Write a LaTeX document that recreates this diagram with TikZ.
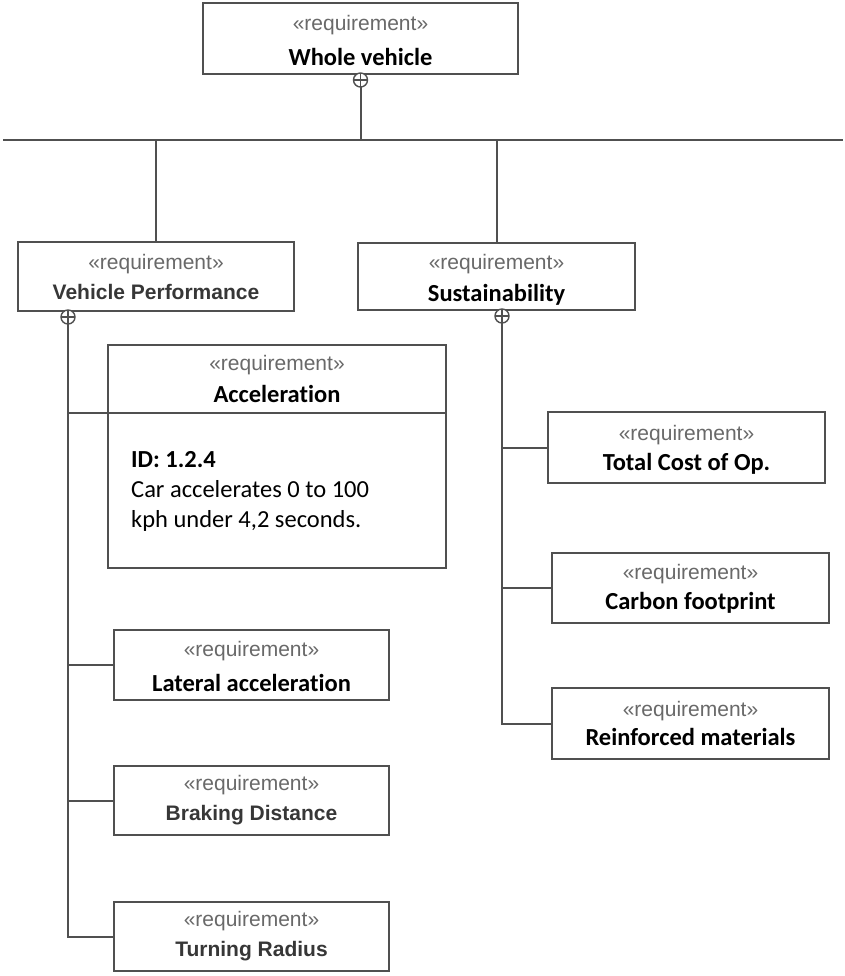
\documentclass[tikz,border=0pt]{standalone}
\usepackage{fontspec}
\setsansfont{Liberation Sans}
\newfontfamily\carlito[Ligatures=NoCommon]{Carlito}
\usetikzlibrary{positioning}
\definecolor{linegray}{RGB}{80,80,80}
\definecolor{stereogray}{RGB}{105,105,105}
\definecolor{namegray}{RGB}{55,55,55}
\newcommand\reqstereo{\sffamily\mdseries\fontsize{21}{25}\selectfont\color{stereogray}}
\newcommand\reqname{\carlito\bfseries\fontsize{24.5}{29}\selectfont}
\newcommand\reqnamealt{\sffamily\bfseries\fontsize{21}{25}\selectfont\color{namegray}}
\newcommand\reqbody{\carlito\fontsize{24.5}{30}\selectfont}
% stereotype line, lifted by extra height on top
\newcommand\reqtag[1]{\rule{0pt}{\dimexpr15pt+#1\relax}{\reqstereo «requirement»}}

\begin{document}
\begin{tikzpicture}[
    x=1pt, y=-1pt,
    req/.style={
        rectangle, draw=linegray, line width=1.8pt, fill=white,
        minimum width=277pt, minimum height=70pt, inner sep=0pt, outer sep=0pt,
        align=center, font=\reqname
    },
    contain/.style={
        circle, draw=linegray, line width=1.4pt, fill=white,
        minimum size=14pt, inner sep=0pt, outer sep=0pt,
        path picture={\draw[linegray, line width=1.2pt]
            (path picture bounding box.north) -- (path picture bounding box.south)
            (path picture bounding box.west) -- (path picture bounding box.east);}
    },
    link/.style={draw=linegray, line width=2pt}
]
\useasboundingbox (0,0) rectangle (844,976);

% Top requirement
\node[req, minimum width=315pt, minimum height=71pt] (whole) at (360.5,38.5)
    {\reqtag{4pt}\\[6pt]Whole vehicle};
\node[contain, anchor=north] (wholeC) at ([yshift=1pt]whole.south) {};

% Second level
\node[req, minimum width=276pt, minimum height=69pt] (vp) at (156,276.5)
    {\reqtag{0pt}\\[1pt]{\reqnamealt Vehicle Performance}};
\node[req, minimum height=67pt] (sust) at (496.5,276.5)
    {\reqtag{7pt}\\[3pt]Sustainability};
\node[contain, anchor=north] (vpC) at ([xshift=-88pt, yshift=1pt]vp.south) {};
\node[contain, anchor=north] (sustC) at ([xshift=5.5pt, yshift=1pt]sust.south) {};

% Vehicle performance children
\node[req, minimum width=338pt, minimum height=68pt] (acc) at (277,379)
    {\reqtag{1pt}\\[3pt]Acceleration};
\node[req, minimum width=338pt, minimum height=155pt, below=0pt of acc] (accbody) {};
\node[anchor=north west, align=left, font=\reqbody, inner sep=0pt] (acctext)
    at ([xshift=23pt, yshift=-38pt]accbody.north west)
    {\textbf{ID: 1.2.4}\\Car accelerates 0 to 100\\kph under 4,2 seconds.};
\node[req, minimum width=275pt] (lat) at (251.5,665)
    {\reqtag{4pt}\\[6pt]Lateral acceleration};
\node[req, minimum width=275pt, minimum height=69pt] (brake) at (251.5,800.5)
    {\reqtag{0pt}\\[1pt]{\reqnamealt Braking Distance}};
\node[req, minimum width=275pt, minimum height=69pt] (turn) at (251.5,936.5)
    {\reqtag{0pt}\\[1pt]{\reqnamealt Turning Radius}};

% Sustainability children
\node[req, minimum height=71pt] (tco) at (686.5,447.5)
    {\reqtag{5pt}\\[1pt]Total Cost of Op.};
\node[req] (carbon) at (690.5,588)
    {\reqtag{2pt}\\[1pt]Carbon footprint};
\node[req, minimum height=71pt] (reinf) at (690.5,723.5)
    {\reqtag{0pt}\\[0pt]Reinforced materials};

% Bus line
\coordinate (busL) at (3,140);
\coordinate (busR) at (843,140);
\draw[link] (busL) -- (busR);
\draw[link] (wholeC) -- (wholeC |- busL);
\draw[link] (vp) -- (vp |- busL);
\draw[link] (sust) -- (sust |- busL);

% Containment trees
\draw[link] (vpC) |- (turn);
\draw[link] (vpC |- acc.south) -- (acc.south west);
\draw[link] (vpC |- lat) -- (lat);
\draw[link] (vpC |- brake) -- (brake);
\draw[link] (sustC) |- (reinf);
\draw[link] (sustC |- tco) -- (tco);
\draw[link] (sustC |- carbon) -- (carbon);

\end{tikzpicture}
\end{document}
